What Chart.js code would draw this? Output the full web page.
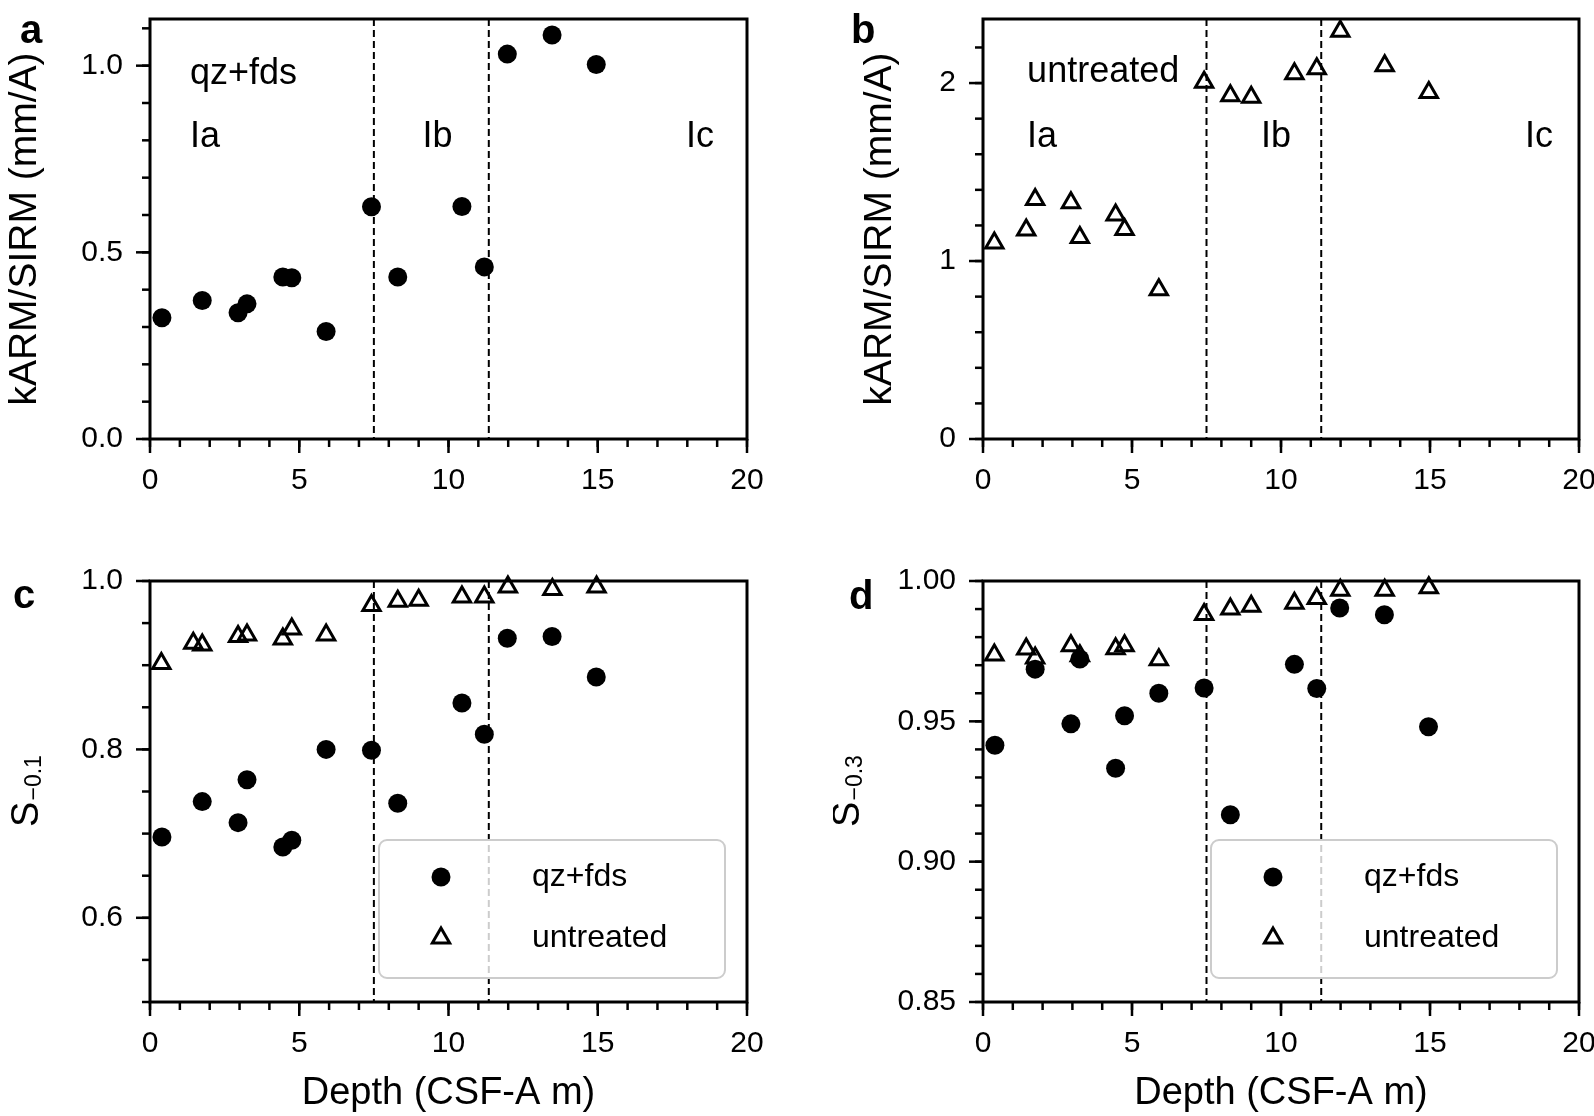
<!DOCTYPE html>
<html>
<head>
<meta charset="utf-8">
<script src="https://cdn.jsdelivr.net/npm/chart.js@4.4.1/dist/chart.umd.min.js"></script>
<style>
  html, body { margin: 0; padding: 0; background: #fff; overflow: hidden; width: 1594px; height: 1116px; }
  canvas { position: absolute; }
</style>
</head>
<body>
<canvas id="pa" width="797" height="540" style="left:0px;top:0px"></canvas>
<canvas id="pb" width="800" height="540" style="left:833px;top:0px"></canvas>
<canvas id="pc" width="797" height="556" style="left:0px;top:560px"></canvas>
<canvas id="pd" width="800" height="556" style="left:833px;top:560px"></canvas>
<script>
// depths (CSF-A m)
const depthQz = [0.4, 1.75, 2.95, 3.25, 4.45, 4.75, 5.9, 7.42, 8.3, 10.45, 11.2, 11.97, 13.47, 14.95];
const depthUn = [0.38, 1.45, 1.75, 2.95, 3.25, 4.45, 4.75, 5.9, 7.42, 8.3, 9.0, 10.45, 11.2, 11.99, 13.48, 14.96];

// kARM/SIRM (mm/A)
const kArmQz = [0.325, 0.371, 0.338, 0.362, 0.434, 0.432, 0.288, 0.622, 0.434, 0.623, 0.461, 1.031, 1.082, 1.003];
const kArmUn = [1.102, 1.174, 1.346, 1.328, 1.132, 1.258, 1.177, 0.839, 2.004, 1.929, 1.921, 2.053, 2.081, 2.291, 2.098, 1.947];

// S-ratios
const s01Qz = [0.696, 0.738, 0.713, 0.764, 0.684, 0.692, 0.800, 0.799, 0.736, 0.855, 0.818, 0.932, 0.934, 0.886];
const s01Un = [0.902, 0.926, 0.924, 0.934, 0.936, 0.931, 0.943, 0.936, 0.971, 0.976, 0.977, 0.981, 0.981, 0.993, 0.990, 0.993];
const s03Qz = [0.9415, 0.9686, 0.9491, 0.9722, 0.9333, 0.9520, 0.9600, 0.9619, 0.9167, 0.9703, 0.9617, 0.9904, 0.9880, 0.9481];
const s03Un = [0.9736, 0.9758, 0.9726, 0.9769, 0.9734, 0.9759, 0.9769, 0.9719, 0.9881, 0.9900, 0.9910, 0.9921, 0.9938, 0.9967, 0.9967, 0.9976];

// unit boundaries Ia/Ib/Ic
const unitBounds = [7.5, 11.35];
const unitNames = ['Ia', 'Ib', 'Ic'];

// axes
const depthTicks = [0, 5, 10, 15, 20];
const kArmQzTicks = [0, 0.5, 1.0];
const kArmUnTicks = [0, 1, 2];
const s01Ticks = [0.6, 0.8, 1.0];
const s03Ticks = [0.85, 0.90, 0.95, 1.00];

const FONT = "'Liberation Sans', Arial, Helvetica, sans-serif";
Chart.defaults.font.family = FONT;
Chart.defaults.color = '#000';

const pts = (xs, ys) => xs.map((x, i) => ({ x, y: ys[i] }));

const qzStyle = { label: 'qz+fds', pointStyle: 'circle', pointRadius: 9.5, pointHoverRadius: 9.5,
  backgroundColor: '#000', borderColor: '#000', borderWidth: 0, showLine: false, clip: false };
const unStyle = { label: 'untreated', pointStyle: 'triangle', pointRadius: 10, pointHoverRadius: 10,
  backgroundColor: 'rgba(0,0,0,0)', borderColor: '#000', borderWidth: 3, showLine: false, clip: false };

function minorVals(min, max, step) {
  const out = [];
  const n0 = Math.ceil(min / step - 1e-6), n1 = Math.floor(max / step + 1e-6);
  for (let n = n0; n <= n1; n++) out.push(n * step);
  return out;
}

function panelPlugin(p) {
  return {
    id: 'panel_' + p.letter,
    beforeDatasetsDraw(chart) {
      const { ctx, chartArea: ca, scales: { x } } = chart;
      ctx.save();
      ctx.strokeStyle = '#000';
      ctx.lineWidth = 2;
      ctx.setLineDash([7, 4]);
      unitBounds.forEach(v => {
        const px = x.getPixelForValue(v);
        ctx.beginPath(); ctx.moveTo(px, ca.top); ctx.lineTo(px, ca.bottom); ctx.stroke();
      });
      ctx.restore();
    },
    afterDraw(chart) {
      const { ctx, chartArea: ca, scales: { x, y } } = chart;
      ctx.save();
      // frame
      ctx.strokeStyle = '#000';
      ctx.lineWidth = 3;
      ctx.strokeRect(ca.left, ca.top, ca.right - ca.left, ca.bottom - ca.top);
      // ticks
      ctx.lineWidth = 2.5;
      const tickX = (v, len) => { const px = x.getPixelForValue(v); ctx.beginPath(); ctx.moveTo(px, ca.bottom); ctx.lineTo(px, ca.bottom + len); ctx.stroke(); };
      const tickY = (v, len) => { const py = y.getPixelForValue(v); ctx.beginPath(); ctx.moveTo(ca.left, py); ctx.lineTo(ca.left - len, py); ctx.stroke(); };
      minorVals(0, 20, 1).forEach(v => tickX(v, 8));
      depthTicks.forEach(v => tickX(v, 14));
      minorVals(y.min, y.max, p.yMinor).forEach(v => tickY(v, 8));
      p.yTicks.forEach(v => tickY(v, 14));

      // in-plot labels
      ctx.fillStyle = '#000';
      ctx.font = '36px ' + FONT;
      ctx.textBaseline = 'alphabetic';
      ctx.textAlign = 'left';
      p.texts.forEach(t => ctx.fillText(t.t, x.getPixelForValue(t.x), y.getPixelForValue(t.y)));

      // legend
      if (p.legend) {
        const w = 346, h = 138;
        const x0 = ca.right - 22 - w, y0 = ca.bottom - 24 - h;
        ctx.beginPath();
        ctx.roundRect(x0, y0, w, h, 8);
        ctx.fillStyle = 'rgba(255,255,255,0.8)';
        ctx.fill();
        ctx.strokeStyle = '#cccccc';
        ctx.lineWidth = 2;
        ctx.stroke();
        const rows = [[qzStyle, y0 + 37], [unStyle, y0 + 98]];
        rows.forEach(([st, ry]) => {
          ctx.fillStyle = st.backgroundColor;
          ctx.strokeStyle = st.borderColor;
          ctx.lineWidth = st.borderWidth;
          Chart.helpers.drawPoint(ctx, { pointStyle: st.pointStyle, radius: st.pointRadius, rotation: 0, borderWidth: st.borderWidth }, x0 + 62, ry);
          ctx.fillStyle = '#000';
          ctx.font = '32px ' + FONT;
          ctx.textBaseline = 'middle';
          ctx.fillText(st.label, x0 + 153, ry);
        });
      }

      // y title with subscript
      if (p.sub) {
        ctx.save();
        const cy = (ca.top + ca.bottom) / 2;
        ctx.translate(p.subX, cy);
        ctx.rotate(-Math.PI / 2);
        ctx.fillStyle = '#000';
        ctx.textBaseline = 'alphabetic';
        ctx.textAlign = 'left';
        ctx.font = '38px ' + FONT;
        const wS = ctx.measureText('S').width;
        ctx.font = '23px ' + FONT;
        const wSub = ctx.measureText(p.sub).width;
        const x0 = -(wS + wSub) / 2;
        ctx.font = '38px ' + FONT;
        ctx.fillText('S', x0, 0);
        ctx.font = '23px ' + FONT;
        ctx.fillText(p.sub, x0 + wS + 1, 3);
        ctx.restore();
      }

      // panel letter
      ctx.fillStyle = '#000';
      ctx.font = 'bold 40px ' + FONT;
      ctx.textBaseline = 'alphabetic';
      ctx.textAlign = 'left';
      ctx.fillText(p.letter, p.letterPos[0], p.letterPos[1]);
      ctx.restore();
    }
  };
}

function makePanel(p) {
  return new Chart(document.getElementById(p.id), {
    type: 'scatter',
    data: { datasets: p.datasets },
    plugins: [panelPlugin(p)],
    options: {
      responsive: false,
      animation: false,
      events: [],
      layout: { padding: { top: p.padTop, right: p.padRight, left: 0, bottom: 0 } },
      plugins: { legend: { display: false }, tooltip: { enabled: false } },
      scales: {
        x: {
          type: 'linear', min: 0, max: 20,
          afterBuildTicks: s => { s.ticks = depthTicks.map(v => ({ value: v })); },
          afterFit: s => { s.height = p.xH; },
          grid: { display: false, drawTicks: true, tickLength: 24 },
          border: { display: false },
          ticks: { padding: 0, autoSkip: false, maxRotation: 0, font: { size: 30 }, color: '#000', callback: v => String(v) },
          title: { display: p.xTitle, text: 'Depth (CSF-A m)', font: { size: 38 }, color: '#000', padding: { top: 0, bottom: 0 } }
        },
        y: {
          type: 'linear', min: p.yRange[0], max: p.yRange[1],
          afterBuildTicks: s => { s.ticks = p.yTicks.map(v => ({ value: v })); },
          afterFit: s => { s.width = 150; },
          grid: { display: false, drawTicks: true, tickLength: 27 },
          border: { display: false },
          ticks: { padding: 0, autoSkip: false, font: { size: 30 }, color: '#000', callback: v => Number(v).toFixed(p.yDec) },
          title: { display: !!p.yTitle, text: p.yTitle || '', font: { size: 39 }, color: '#000', padding: { top: p.yTitlePad || 0, bottom: 0 } }
        }
      }
    }
  });
}

makePanel({
  id: 'pa', letter: 'a', letterPos: [20, 43], padTop: 19, padRight: 50, xH: 101, xTitle: false,
  yRange: [0, 1.125], yTicks: kArmQzTicks, yDec: 1, yMinor: 0.1,
  yTitle: 'kARM/SIRM (mm/A)', yTitlePad: 2,
  datasets: [{ ...qzStyle, data: pts(depthQz, kArmQz) }],
  texts: [{ t: 'qz+fds', x: 1.34, y: 0.951 }, { t: unitNames[0], x: 1.34, y: 0.782 },
          { t: unitNames[1], x: 9.13, y: 0.782 }, { t: unitNames[2], x: 17.96, y: 0.782 }]
});

makePanel({
  id: 'pb', letter: 'b', letterPos: [18, 43], padTop: 19, padRight: 54, xH: 101, xTitle: false,
  yRange: [0, 2.36], yTicks: kArmUnTicks, yDec: 0, yMinor: 0.2,
  yTitle: 'kARM/SIRM (mm/A)', yTitlePad: 24,
  datasets: [{ ...unStyle, data: pts(depthUn, kArmUn) }],
  texts: [{ t: 'untreated', x: 1.48, y: 2.006 }, { t: unitNames[0], x: 1.48, y: 1.641 },
          { t: unitNames[1], x: 9.33, y: 1.641 }, { t: unitNames[2], x: 18.19, y: 1.641 }]
});

makePanel({
  id: 'pc', letter: 'c', letterPos: [13, 48], padTop: 21, padRight: 50, xH: 114, xTitle: true,
  yRange: [0.5, 1.0], yTicks: s01Ticks, yDec: 1, yMinor: 0.05,
  sub: '\u22120.1', subX: 38,
  datasets: [{ ...qzStyle, data: pts(depthQz, s01Qz) }, { ...unStyle, data: pts(depthUn, s01Un) }],
  texts: [], legend: true
});

makePanel({
  id: 'pd', letter: 'd', letterPos: [16, 49], padTop: 21, padRight: 54, xH: 114, xTitle: true,
  yRange: [0.85, 1.0], yTicks: s03Ticks, yDec: 2, yMinor: 0.01,
  sub: '\u22120.3', subX: 26,
  datasets: [{ ...qzStyle, data: pts(depthQz, s03Qz) }, { ...unStyle, data: pts(depthUn, s03Un) }],
  texts: [], legend: true
});
</script>
</body>
</html>
